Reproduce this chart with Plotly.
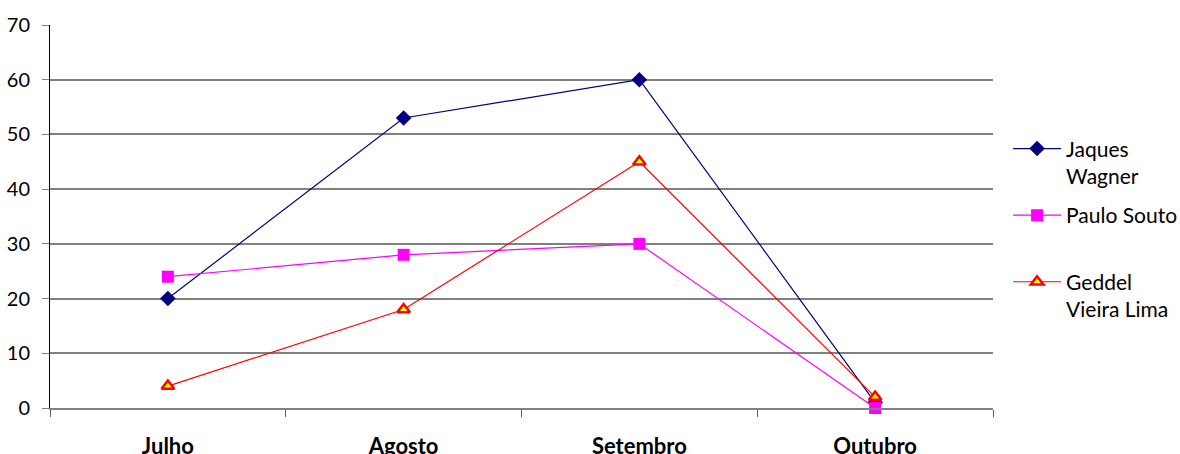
import plotly.graph_objects as go

# Survey results by month
months = ["Julho", "Agosto", "Setembro", "Outubro"]
jaques_wagner = [20, 53, 60, 1]
paulo_souto = [24, 28, 30, 0]
geddel_vieira_lima = [4, 18, 45, 2]
y_ticks = [0, 10, 20, 30, 40, 50, 60, 70]

FONT = "Lato, Liberation Sans, sans-serif"
BLANK_LINE = "<br><span style='color:rgba(0,0,0,0)'>.</span>"

fig = go.Figure()

fig.add_trace(go.Scatter(
    x=months, y=jaques_wagner, name="Jaques<br>Wagner", mode="lines+markers",
    legendgroup="jw", line=dict(color="#000080", width=1.2), cliponaxis=False,
    marker=dict(symbol="diamond", size=12, color="#000080"),
))
fig.add_trace(go.Scatter(
    x=months, y=paulo_souto, name="Paulo Souto" + BLANK_LINE, mode="lines+markers",
    legendgroup="ps", line=dict(color="#FF00FF", width=1.2), cliponaxis=False,
    marker=dict(symbol="square", size=12, color="#FF00FF"),
))
fig.add_trace(go.Scatter(
    x=months, y=geddel_vieira_lima, name="Geddel<br>Vieira Lima", mode="lines+markers",
    legendgroup="gvl", line=dict(color="#FF0000", width=1.2), cliponaxis=False,
    marker=dict(symbol="triangle-up", size=11, color="#FFFF00",
                line=dict(color="#FF0000", width=2.5)),
))

fig.update_layout(
    width=1180, height=454,
    margin=dict(l=50, r=187, t=25, b=46, autoexpand=False),
    paper_bgcolor="white", plot_bgcolor="white",
    font=dict(family=FONT, size=18, color="black"),
    showlegend=True,
    legend=dict(
        x=1.016, y=0.73, xanchor="left", yanchor="top",
        font=dict(family=FONT, size=21, color="black"),
        valign="top", tracegroupgap=9, itemwidth=48,
        bgcolor="rgba(0,0,0,0)",
    ),
    xaxis=dict(
        type="category", tickson="boundaries", ticks="outside", ticklen=7,
        tickcolor="#606060", showgrid=False, showline=True, linecolor="#808080",
        linewidth=1.5, range=[-0.5, 3.5], ticklabelstandoff=18, automargin=False,
        tickfont=dict(family=FONT, size=22, color="black", weight="bold"),
    ),
    yaxis=dict(
        range=[0, 70], tickvals=y_ticks, ticks="outside", ticklen=7,
        tickcolor="#808080", showgrid=True, gridcolor="#808080", gridwidth=1.5,
        showline=True, linecolor="black", linewidth=1, zeroline=False,
        ticklabelstandoff=8, automargin=False,
        tickfont=dict(family=FONT, size=20, color="black"),
    ),
)

fig.write_html("out.html")
